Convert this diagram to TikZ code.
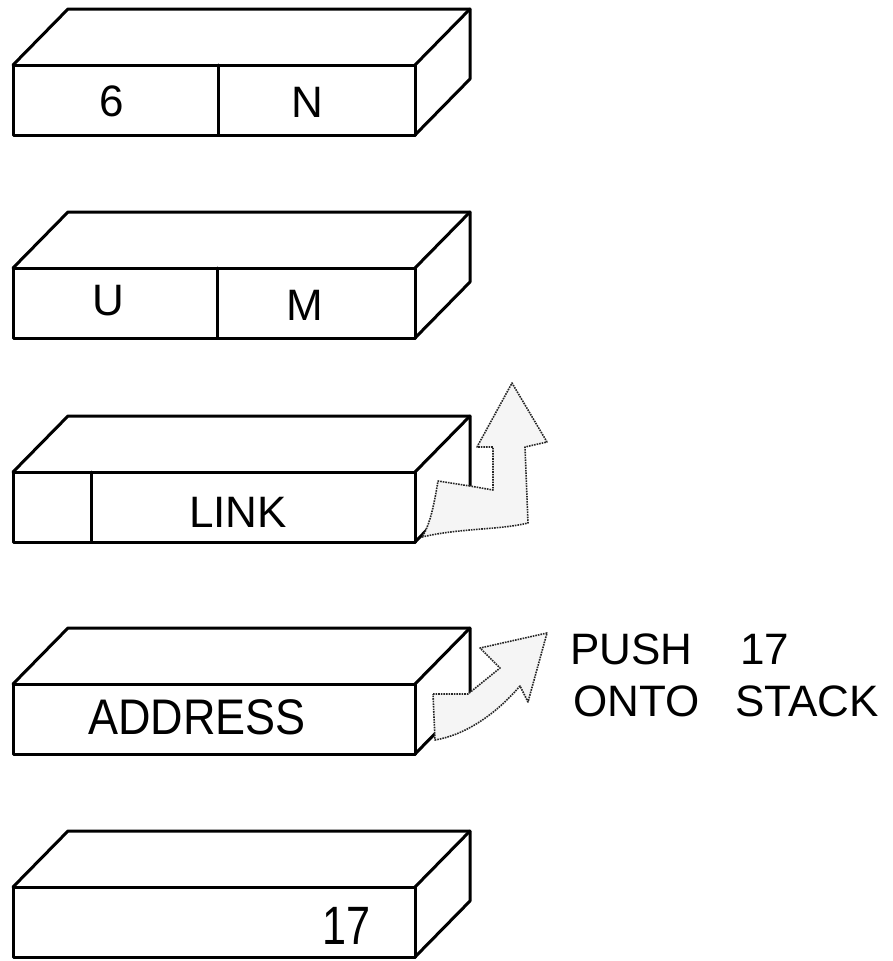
\documentclass[tikz,border=0pt]{standalone}
\usepackage{fontspec}
\setmainfont{Liberation Sans}
\begin{document}
\begin{tikzpicture}[x=1pt,y=-1pt,
  face/.style={draw, line width=3pt, line join=round, line cap=round},
  front/.style={face, rectangle, minimum width=402pt, minimum height=70pt,
    inner sep=0pt, outer sep=0pt, anchor=north west},
  lbl/.style={font=\fontsize{44}{48}\selectfont, inner sep=0pt},
  note/.style={font=\fontsize{44}{48}\selectfont, inner sep=0pt, anchor=west},
  bent/.style={draw=black!85, line width=1.6pt, densely dotted, fill=black!4,
    line join=round}]
\useasboundingbox (0,0) rectangle (892,961);

% box 1
\node[front] (b1) at (13,65) {};
\draw[face] (b1.north west) -- ++(55,-56) -- ++(402,0) -- ++(0,70) -- (b1.south east);
\draw[face] (b1.north east) -- ++(55,-56);
\draw[face] (218,65) -- (218,135);
\node[lbl] (l6) at (112,101) {6};
\node[lbl] (lN) at (307,102) {N};

% box 2
\node[front] (b2) at (13,268) {};
\draw[face] (b2.north west) -- ++(55,-56) -- ++(402,0) -- ++(0,70) -- (b2.south east);
\draw[face] (b2.north east) -- ++(55,-56);
\draw[face] (217,268) -- (217,338);
\node[lbl] (lU) at (108,301) {U};
\node[lbl] (lM) at (305,305) {M};

% box 3
\node[front] (b3) at (13,472) {};
\draw[face] (b3.north west) -- ++(55,-56) -- ++(402,0) -- ++(0,70) coordinate (b3c) -- (b3.south east);
\draw[face] (b3.north east) -- ++(55,-56);
\draw[face] (91,472) -- (91,542);
\node[lbl] (lLink) at (238,512) {LINK};

% box 4
\node[front] (b4) at (13,684) {};
\draw[face] (b4.north west) -- ++(55,-56) -- ++(402,0) -- ++(0,70) coordinate (b4c) -- (b4.south east);
\draw[face] (b4.north east) -- ++(55,-56);
\node[lbl] (lAddr) at (197,717) {\fontsize{50}{54}\selectfont\scalebox{0.9}[1]{ADDRESS}};

% box 5
\node[front] (b5) at (13,887) {};
\draw[face] (b5.north west) -- ++(55,-56) -- ++(402,0) -- ++(0,70) -- (b5.south east);
\draw[face] (b5.north east) -- ++(55,-56);
\node[lbl] (l17) at (347,926) {\fontsize{54}{58}\selectfont\scalebox{0.8}[1]{17}};

% up arrow out of LINK box
\draw[bent] (b3c) -- (438,481)
  .. controls (434,505) and (430,525) .. (422,537)
  .. controls (460,528) and (500,530) .. (528,523)
  -- (525,447) -- (547,442) -- (512,383) -- (477,447) -- (493,447) -- (493,490) -- cycle;

% push arrow out of ADDRESS box
\draw[bent] (433,694) -- (468,694) -- (500,668) -- (480,648) -- (547,633) -- (528,702) -- (520,686)
  .. controls (495,715) and (465,735) .. (435,740) -- cycle;

% text
\node[note] (push) at (570,649) {PUSH\hspace{48pt}17};
\node[note] (onto) at (573,701) {ONTO\hspace{36pt}STACK};
\end{tikzpicture}
\end{document}
